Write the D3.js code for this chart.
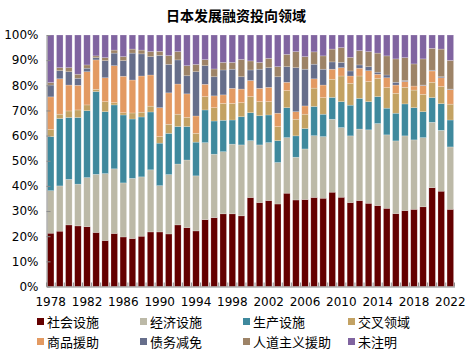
<!DOCTYPE html>
<html><head><meta charset="utf-8">
<script src="https://cdn.jsdelivr.net/npm/d3@7"></script>
<style>
html,body{margin:0;padding:0;background:#fff;}
svg{display:block;}
</style></head>
<body>
<svg id="chart" width="472" height="355"></svg>
<script>
const years = d3.range(1978, 2023);
const seriesNames = ["社会设施","经济设施","生产设施","交叉领域","商品援助","债务减免","人道主义援助","未注明"];
const seriesColors = ["#640000","#bcb9a7","#3f899d","#c3a263","#e39a62","#666e8b","#9d8367","#8064a0"];
const yTicks = [0,10,20,30,40,50,60,70,80,90,100];
const xTickYears = [1978,1982,1986,1990,1994,1998,2002,2006,2010,2014,2018,2022];

const social =     [21.2,22.0,24.5,24.1,23.8,21.5,18.3,21.1,19.7,19.1,20.0,21.7,21.7,20.9,24.5,23.4,22.1,26.6,27.4,28.9,28.9,28.1,35.4,33.4,34.2,32.8,37.1,34.4,34.6,35.4,35.1,37.5,35.5,33.4,34.2,33.1,32.2,31.1,29.0,30.2,30.7,31.7,39.3,37.9,30.7];
const economic =   [16.9,18.0,18.1,16.6,19.5,23.1,26.6,25.7,21.5,23.9,23.6,24.7,18.4,23.6,24.2,26.9,21.9,30.6,25.2,24.7,27.7,28.2,22.6,22.9,23.0,16.5,22.1,17.0,20.1,24.5,24.5,29.0,27.7,26.5,28.4,29.2,32.6,29.2,28.9,29.7,27.6,27.5,26.0,24.2,24.8];
const production = [21.5,26.8,24.6,26.5,26.6,32.9,24.6,25.4,27.0,23.6,23.8,23.0,16.9,16.4,14.9,13.3,13.4,13.0,13.2,12.5,9.6,11.2,11.1,11.6,11.0,8.7,11.9,8.5,8.1,11.6,8.9,8.7,10.3,12.2,12.2,11.2,10.7,10.6,11.0,12.7,12.8,10.3,9.8,10.6,10.7];
const crossSector =[2.8,1.7,2.6,3.0,2.3,0.9,4.0,0.9,0.9,2.4,1.9,2.3,2.6,3.6,4.9,3.6,3.5,5.3,5.3,6.7,6.6,5.6,6.4,5.6,5.3,5.6,6.8,6.6,5.7,7.3,6.6,7.2,10.2,8.7,8.9,8.0,7.3,8.2,7.9,6.6,7.0,6.9,6.1,6.8,6.3];
const commodity =  [13.0,14.1,10.3,9.8,13.2,11.7,9.5,14.7,14.5,13.1,14.4,12.4,11.5,12.5,12.0,9.4,6.9,4.9,4.7,3.4,6.0,5.4,6.4,5.3,5.7,5.3,3.3,3.0,3.3,3.7,5.0,4.0,3.3,2.9,3.1,4.3,1.6,3.9,3.3,2.3,1.6,3.5,4.5,3.5,5.8];
const debtRelief = [4.7,3.2,5.3,2.8,1.4,0.9,6.8,5.0,6.2,10.7,8.8,7.3,20.8,11.3,9.6,7.2,17.6,7.4,7.6,9.9,7.6,4.9,4.2,7.6,7.8,14.5,6.2,17.5,14.6,5.8,6.3,2.9,2.1,2.0,1.3,1.6,0.8,1.1,1.1,0.4,0.0,0.2,0.3,0.4,0.2];
const humanitarian=[1.0,1.2,1.6,1.6,1.3,0.7,1.2,1.2,1.6,1.6,1.5,2.0,1.6,3.5,3.3,4.0,2.9,2.4,3.1,3.0,2.7,6.9,3.6,2.7,3.7,4.0,4.9,6.4,5.0,4.9,5.3,5.1,5.9,5.4,5.7,6.0,7.6,7.6,9.3,9.1,8.8,10.4,8.7,11.0,11.4];
const unspecified= [18.9,13.0,13.0,15.6,11.9,8.3,9.0,6.0,8.6,5.6,6.0,6.6,6.5,8.2,6.6,12.2,11.7,9.8,13.5,10.9,10.9,9.7,10.3,10.9,9.3,12.6,7.7,6.6,8.6,6.7,8.3,5.6,5.0,8.9,6.2,6.6,7.2,8.3,9.5,9.0,11.5,9.5,5.3,5.6,10.1];

const seriesValues = [social,economic,production,crossSector,commodity,debtRelief,humanitarian,unspecified];

const rows = years.map((yr,i)=>{
  const r = {year: yr};
  seriesNames.forEach((n,k)=>{ r[n] = seriesValues[k][i]; });
  return r;
});
rows.forEach(r=>{
  const tot = d3.sum(seriesNames, n=>r[n]);
  seriesNames.forEach(n=>{ r[n] = r[n]/tot*100; });
});

const svg = d3.select("#chart");
const mLeft = 46.5, mRight = 454.5, mTop = 35, mBottom = 286.5;

const x = d3.scaleBand().domain(years).range([mLeft, mRight]).paddingInner(0.28).paddingOuter(0.1);
const y = d3.scaleLinear().domain([0,100]).range([mBottom, mTop]);
const color = d3.scaleOrdinal().domain(seriesNames).range(seriesColors);

const stacked = d3.stack().keys(seriesNames)(rows);

svg.append("text")
  .attr("x", 236).attr("y", 21)
  .attr("text-anchor","middle")
  .attr("font-family","'Noto Sans CJK SC', sans-serif")
  .attr("font-weight","bold")
  .attr("font-size","14px")
  .attr("fill","#000")
  .text("日本发展融资投向领域");

const g = svg.append("g");
g.selectAll("g.series").data(stacked).join("g")
  .attr("class","series")
  .attr("fill", d=>color(d.key))
  .selectAll("rect").data(d=>d).join("rect")
  .attr("x", d=>x(d.data.year))
  .attr("width", x.bandwidth())
  .attr("y", d=>y(d[1]))
  .attr("height", d=>Math.max(0, y(d[0])-y(d[1])))
  .attr("stroke","#ffffff")
  .attr("stroke-opacity",0.35)
  .attr("stroke-width",0.6);

const yAxis = d3.axisLeft(y).tickValues(yTicks).tickFormat(d=>d+"%").tickSizeInner(-4).tickSizeOuter(0).tickPadding(8);
const ya = svg.append("g").attr("transform",`translate(${mLeft},0)`).call(yAxis);
ya.select(".domain").attr("stroke","#8c8c8c");
ya.selectAll(".tick line").attr("stroke","#8c8c8c");
ya.selectAll("text").attr("font-family","'DejaVu Sans', sans-serif").attr("font-size","12px").attr("fill","#000");

const xAxis = d3.axisBottom(x).tickValues(xTickYears).tickSize(0).tickPadding(11);
const xa = svg.append("g").attr("transform",`translate(0,${mBottom})`).call(xAxis);
xa.select(".domain").attr("stroke","#8c8c8c").attr("stroke-width",1.2);
xa.selectAll("text").attr("font-family","'DejaVu Sans', sans-serif").attr("font-size","12px").attr("fill","#000");
const bounds = years.slice(1).map(yr => x(yr) - x.step()*x.paddingInner()/2);
bounds.unshift(mLeft); bounds.push(mRight);
svg.append("g").selectAll("line").data(bounds).join("line")
  .attr("x1",d=>d).attr("x2",d=>d)
  .attr("y1",mBottom).attr("y2",mBottom-4)
  .attr("stroke","#8c8c8c");

const legX = [37, 140, 243, 348];
const legY = [322, 342];
const leg = svg.append("g");
seriesNames.forEach((n,k)=>{
  const col = k%4, row = Math.floor(k/4);
  const gx = legX[col], gy = legY[row];
  leg.append("rect").attr("x",gx).attr("y",gy-4).attr("width",7).attr("height",7).attr("fill",color(n));
  leg.append("text").attr("x",gx+10).attr("y",gy+5)
    .attr("font-family","'Noto Sans CJK SC', sans-serif")
    .attr("font-size","13px").attr("fill","#000").text(n);
});
</script>
</body></html>
